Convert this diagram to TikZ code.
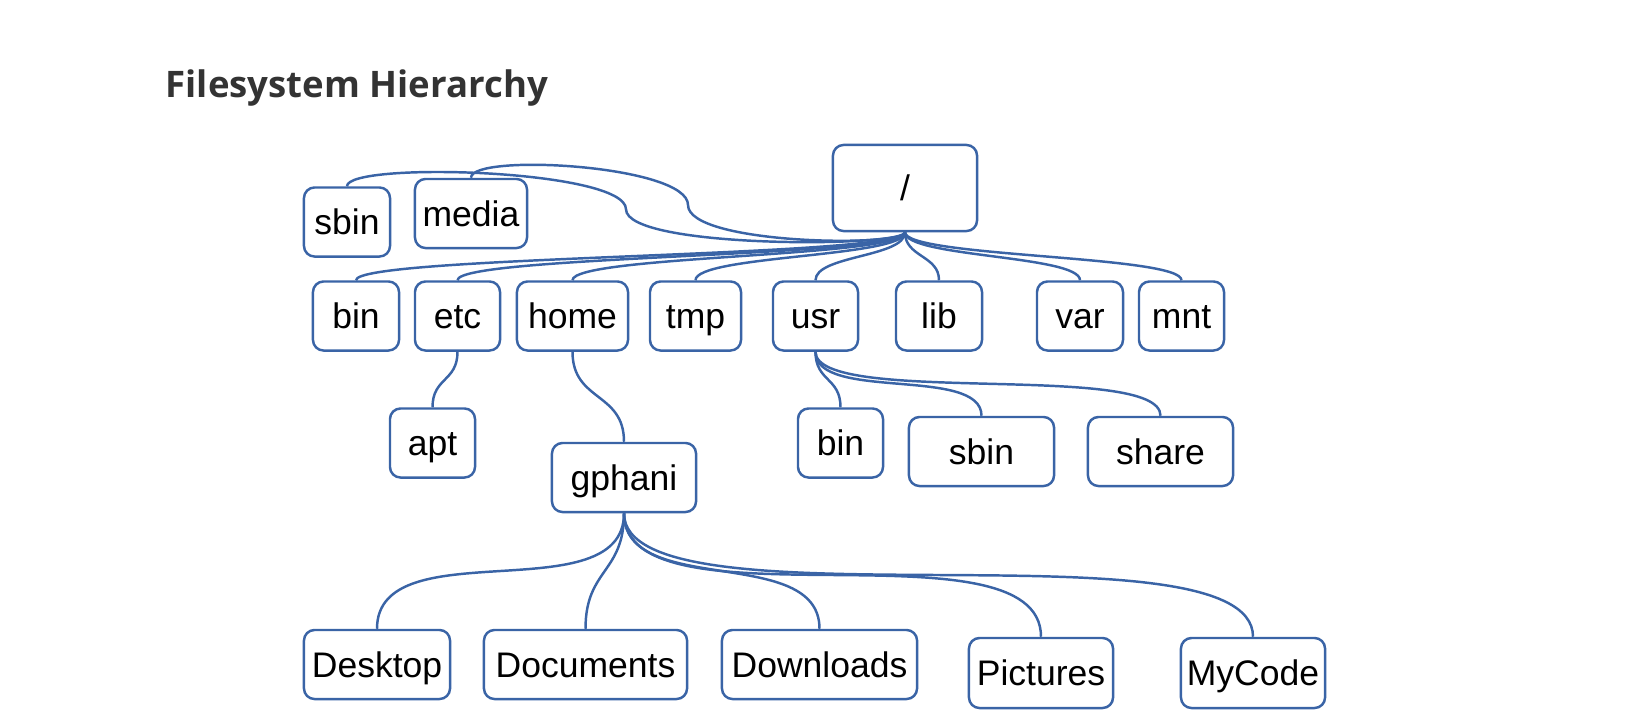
\documentclass[tikz,border=0pt]{standalone}
\usepackage{fontspec}
\setmainfont{Liberation Sans}
\newfontfamily\headfont{Open Sans}
\usepackage{xcolor}
\usepackage{tikz}
\usetikzlibrary{calc}
\definecolor{linkblue}{RGB}{58,100,166}
\definecolor{headgray}{RGB}{51,51,51}

\begin{document}
\begin{tikzpicture}[
    x=0.01cm, y=0.01cm,
    dir/.style={draw=linkblue, line width=0.7pt, rounded corners=3pt, fill=white, inner sep=0pt,
        minimum width=0.86cm, minimum height=0.69cm, text height=0.72em, text depth=0pt,
        font=\fontsize{10.1pt}{12pt}\selectfont},
    link/.style={draw=linkblue, line width=0.7pt}
]
    \useasboundingbox (0,0) rectangle (1649,-712);

    % Title
    \node[anchor=base west, inner sep=0pt, text=headgray, font=\headfont\bfseries\fontsize{10.4pt}{12pt}\selectfont] (title) at (165,-97) {Filesystem Hierarchy};

    % Root
    \node[dir, minimum width=1.44cm, minimum height=0.86cm] (root) at (905,-188) {/};

    % First level
    \node[dir] (sbin1) at (347,-222) {sbin};
    \node[dir, minimum width=1.12cm] (media) at (471,-213.5) {media};
    \node[dir] (bin) at (356,-316) {bin};
    \node[dir, minimum width=0.85cm] (etc) at (457.5,-316) {etc};
    \node[dir, minimum width=1.11cm] (home) at (572.5,-316) {home};
    \node[dir, minimum width=0.91cm] (tmp) at (695.5,-316) {tmp};
    \node[dir, minimum width=0.85cm] (usr) at (815.5,-316) {usr};
    \node[dir] (lib) at (939,-316) {lib};
    \node[dir] (var) at (1080,-316) {var};
    \node[dir, minimum width=0.85cm] (mnt) at (1181.5,-316) {mnt};

    % Second level
    \node[dir, minimum width=0.85cm] (apt) at (432.5,-443) {apt};
    \node[dir, minimum width=1.44cm] (gphani) at (624,-477.5) {gphani};
    \node[dir, minimum width=0.85cm] (usrbin) at (840.5,-443) {bin};
    \node[dir, minimum width=1.45cm] (usrsbin) at (981.5,-451.5) {sbin};
    \node[dir, minimum width=1.45cm] (share) at (1160.5,-451.5) {share};

    % Home folders
    \node[dir, minimum width=1.46cm] (desktop) at (377,-664.5) {Desktop};
    \node[dir, minimum width=2.03cm] (documents) at (585.5,-664.5) {Documents};
    \node[dir, minimum width=1.95cm] (downloads) at (819.5,-664.5) {Downloads};
    \node[dir, minimum width=1.44cm, minimum height=0.70cm] (pictures) at (1041,-673) {Pictures};
    \node[dir, minimum width=1.44cm, minimum height=0.70cm] (mycode) at (1253,-673) {MyCode};

    % Links from root
    \foreach \d in {sbin1, media} {
        \draw[link] (root.south) .. controls +(0,-15) and +(0,-40) .. ($(root.south)!.5!(\d.north)$)
            .. controls +(0,40) and +(0,25) .. (\d.north);
    }
    \foreach \d in {bin, etc, home, tmp, usr, lib, var, mnt} {
        \draw[link] (root.south) .. controls +(0,-25) and +(0,25) .. (\d.north);
    }

    % Links below first level
    \draw[link] (etc.south) .. controls +(0,-30) and +(0,30) .. (apt.north);
    \draw[link] (home.south) .. controls +(0,-50) and +(0,50) .. (gphani.north);
    \foreach \d/\k in {usrbin/30, usrsbin/50, share/55} {
        \draw[link] (usr.south) .. controls +(0,-\k) and +(0,\k) .. (\d.north);
    }
    \foreach \d/\k in {desktop/100, documents/60, downloads/85, pictures/120, mycode/120} {
        \draw[link] (gphani.south) .. controls +(0,-\k) and +(0,\k) .. (\d.north);
    }
\end{tikzpicture}
\end{document}
